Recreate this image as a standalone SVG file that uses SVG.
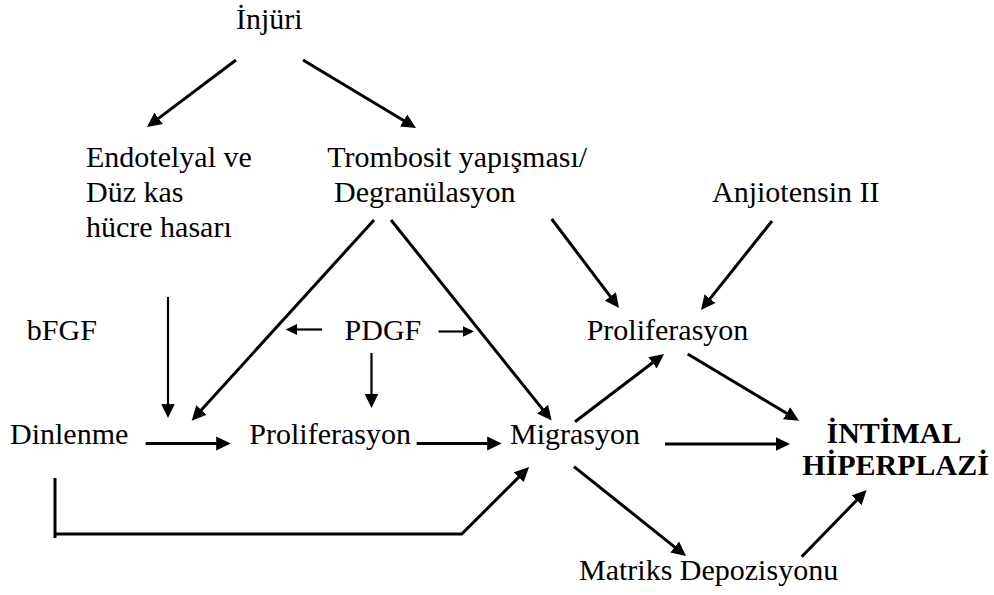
<svg xmlns="http://www.w3.org/2000/svg" width="994" height="595" viewBox="0 0 994 595">
<style>
text{font-family:"Liberation Serif","Times New Roman",serif;font-size:30px;fill:#000}
.b{font-weight:bold}
.c{fill:none;stroke:#000;stroke-width:3}
.n{stroke-width:2.2}
</style>
<defs>
<marker id="ah" markerUnits="userSpaceOnUse" markerWidth="15" markerHeight="15" viewBox="-0.5 -7.5 15 15" refX="0" refY="0" orient="auto"><path d="M-0.5,-7 L14,0 L-0.5,7 z" fill="#000"/></marker>
<marker id="as" markerUnits="userSpaceOnUse" markerWidth="12" markerHeight="12" viewBox="-0.5 -6 12 12" refX="0" refY="0" orient="auto"><path d="M-0.5,-5.5 L11,0 L-0.5,5.5 z" fill="#000"/></marker>
</defs>
<rect width="994" height="595" fill="#fff"/>
<g id="connectors">
<line class="c" x1="236" y1="60" x2="158.2" y2="118.6" marker-end="url(#ah)"/>
<line class="c" x1="303" y1="60" x2="404" y2="120.8" marker-end="url(#ah)"/>
<line class="c n" x1="168" y1="297" x2="168" y2="404" marker-end="url(#ah)"/>
<line class="c" x1="374" y1="220" x2="201.1" y2="410.3" marker-end="url(#ah)"/>
<line class="c" x1="391" y1="220" x2="542.9" y2="409.6" marker-end="url(#ah)"/>
<line class="c" x1="551.7" y1="219" x2="610.6" y2="296.8" marker-end="url(#ah)"/>
<line class="c" x1="772" y1="221" x2="709.7" y2="299.1" marker-end="url(#ah)"/>
<line class="c n" x1="322" y1="329.5" x2="296.7" y2="329.5" marker-end="url(#as)"/>
<line class="c n" x1="438.6" y1="331.5" x2="463" y2="331.5" marker-end="url(#as)"/>
<line class="c n" x1="371.5" y1="353" x2="371.5" y2="394" marker-end="url(#ah)"/>
<line class="c" x1="145.7" y1="443.5" x2="216.7" y2="443.5" marker-end="url(#ah)"/>
<line class="c" x1="416.7" y1="443.5" x2="487.7" y2="443.5" marker-end="url(#ah)"/>
<line class="c" x1="665" y1="444" x2="776" y2="444" marker-end="url(#ah)"/>
<line class="c" x1="575" y1="421.7" x2="652.9" y2="362.5" marker-end="url(#ah)"/>
<line class="c" x1="687.7" y1="354" x2="787" y2="413.5" marker-end="url(#ah)"/>
<line class="c" x1="574" y1="466.7" x2="675.1" y2="547.3" marker-end="url(#ah)"/>
<line class="c" x1="801.7" y1="556.7" x2="856.9" y2="500" marker-end="url(#ah)"/>
<line class="c" x1="55" y1="478" x2="55" y2="538"/>
<polyline class="c" points="55,534 461.7,534 519.1,476.9" marker-end="url(#ah)"/>
</g>
<g id="injuri"><text x="236" y="28.5">İnjüri</text></g>
<g id="endotelyal"><text x="86" y="166.7">Endotelyal ve</text><text x="86" y="201.7">Düz kas</text><text x="86" y="236.7">hücre hasarı</text></g>
<g id="trombosit"><text x="327.3" y="166.7">Trombosit yapışması/</text><text x="334" y="201.7">Degranülasyon</text></g>
<g id="anjiotensin"><text x="712" y="201.7">Anjiotensin II</text></g>
<g id="bfgf"><text x="26.8" y="340">bFGF</text></g>
<g id="pdgf"><text x="344.6" y="340">PDGF</text></g>
<g id="proliferasyon2"><text x="586.7" y="340">Proliferasyon</text></g>
<g id="dinlenme"><text x="10" y="444">Dinlenme</text></g>
<g id="proliferasyon1"><text x="249.3" y="444">Proliferasyon</text></g>
<g id="migrasyon"><text x="510" y="443.5">Migrasyon</text></g>
<g id="intimal"><text class="b" x="894" y="443" text-anchor="middle">İNTİMAL</text><text class="b" x="895.5" y="475" text-anchor="middle">HİPERPLAZİ</text></g>
<g id="matriks"><text x="579" y="580">Matriks Depozisyonu</text></g>
</svg>
